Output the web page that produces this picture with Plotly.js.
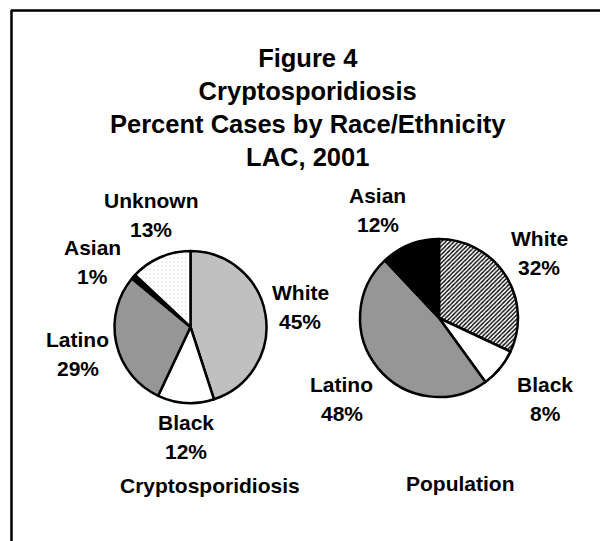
<!DOCTYPE html>
<html>
<head>
<meta charset="utf-8">
<script src="https://cdn.plot.ly/plotly-3.0.1.min.js"></script>
<style>html,body{margin:0;padding:0;background:#fff;}#chart{width:600px;height:541px;}</style>
</head>
<body>
<div id="chart"></div>
<script>
// ---- data ----
const chartTitle = ['Figure 4', 'Cryptosporidiosis', 'Percent Cases by Race/Ethnicity', 'LAC, 2001'];
const casesName = 'Cryptosporidiosis';
const casesLabels = ['White', 'Black', 'Latino', 'Asian', 'Unknown'];
const casesValues = [45, 12, 29, 1, 13];
const popName = 'Population';
const popLabels = ['White', 'Black', 'Latino', 'Asian'];
const popValues = [32, 8, 48, 12];

// ---- layout helpers (pixel positions on 600x541 canvas) ----
const W = 600, H = 541;
const px = x => x / W;
const py = y => 1 - y / H;
const FONT = '"Liberation Sans", Arial, sans-serif';

const casesLabelPos = [[300, 292], [186, 422], [77.5, 339], [92.5, 247], [151, 200]];
const popLabelPos = [[539, 238], [545, 384], [342, 384], [377.5, 195]];
const lineGap = 29.5;

function labelAnnots(labels, values, pos) {
  const out = [];
  labels.forEach((lab, i) => {
    const [x, y] = pos[i];
    out.push({text: '<b>' + lab + '</b>', x: px(x), y: py(y)});
    out.push({text: '<b>' + values[i] + '%</b>', x: px(x), y: py(y + lineGap)});
  });
  return out;
}

const annotations = [].concat(
  labelAnnots(casesLabels, casesValues, casesLabelPos),
  labelAnnots(popLabels, popValues, popLabelPos),
  [
    {text: '<b>' + casesName + '</b>', x: px(210), y: py(485)},
    {text: '<b>' + popName + '</b>', x: px(460), y: py(483)}
  ]
).map(a => Object.assign({
  xref: 'paper', yref: 'paper', showarrow: false,
  xanchor: 'center', yanchor: 'middle',
  font: {family: FONT, size: 21, color: '#000'}
}, a));

annotations.push({
  text: chartTitle.map(t => '<b>' + t + '</b>').join('<br>'),
  xref: 'paper', yref: 'paper', x: px(308), y: py(107.5),
  xanchor: 'center', yanchor: 'middle', showarrow: false,
  font: {family: FONT, size: 25.5, color: '#000'}
});

const traces = [
  {
    type: 'pie', name: casesName,
    labels: casesLabels, values: casesValues,
    sort: false, direction: 'clockwise', rotation: 0,
    textinfo: 'none', hoverinfo: 'label+percent',
    domain: {x: [px(114.5), px(266.5)], y: [py(403), py(251)]},
    marker: {
      colors: ['#c0c0c0', '#ffffff', '#969696', '#000000', '#ffffff'],
      line: {color: '#000', width: 2.5},
      pattern: {
        shape: ['', '', '', '', '.'],
        fgcolor: ['#000', '#000', '#000', '#000', '#d4d4d4'],
        bgcolor: ['#c0c0c0', '#ffffff', '#969696', '#000000', '#ffffff'],
        size: 4, solidity: 0.08
      }
    }
  },
  {
    type: 'pie', name: popName,
    labels: popLabels, values: popValues,
    sort: false, direction: 'clockwise', rotation: 0,
    textinfo: 'none', hoverinfo: 'label+percent',
    domain: {x: [px(360), px(518)], y: [py(397), py(239)]},
    marker: {
      colors: ['#ffffff', '#ffffff', '#969696', '#000000'],
      line: {color: '#000', width: 2.5},
      pattern: {
        shape: ['/', '', '', ''],
        fgcolor: ['#000', '#000', '#000', '#000'],
        bgcolor: ['#ffffff', '#ffffff', '#969696', '#000000'],
        size: 3, solidity: 0.45
      }
    }
  }
];

const layout = {
  width: W, height: H,
  margin: {l: 0, r: 0, t: 0, b: 0},
  paper_bgcolor: '#fff', plot_bgcolor: '#fff',
  showlegend: false,
  font: {family: FONT, color: '#000'},
  annotations: annotations,
  shapes: [
    {type: 'line', xref: 'paper', yref: 'paper', x0: px(11), x1: px(600), y0: py(10.5), y1: py(10.5), line: {color: '#000', width: 2.5}},
    {type: 'line', xref: 'paper', yref: 'paper', x0: px(11.5), x1: px(11.5), y0: py(10), y1: py(541), line: {color: '#000', width: 2.5}}
  ]
};

Plotly.newPlot('chart', traces, layout, {displayModeBar: false, staticPlot: true});
</script>
</body>
</html>
